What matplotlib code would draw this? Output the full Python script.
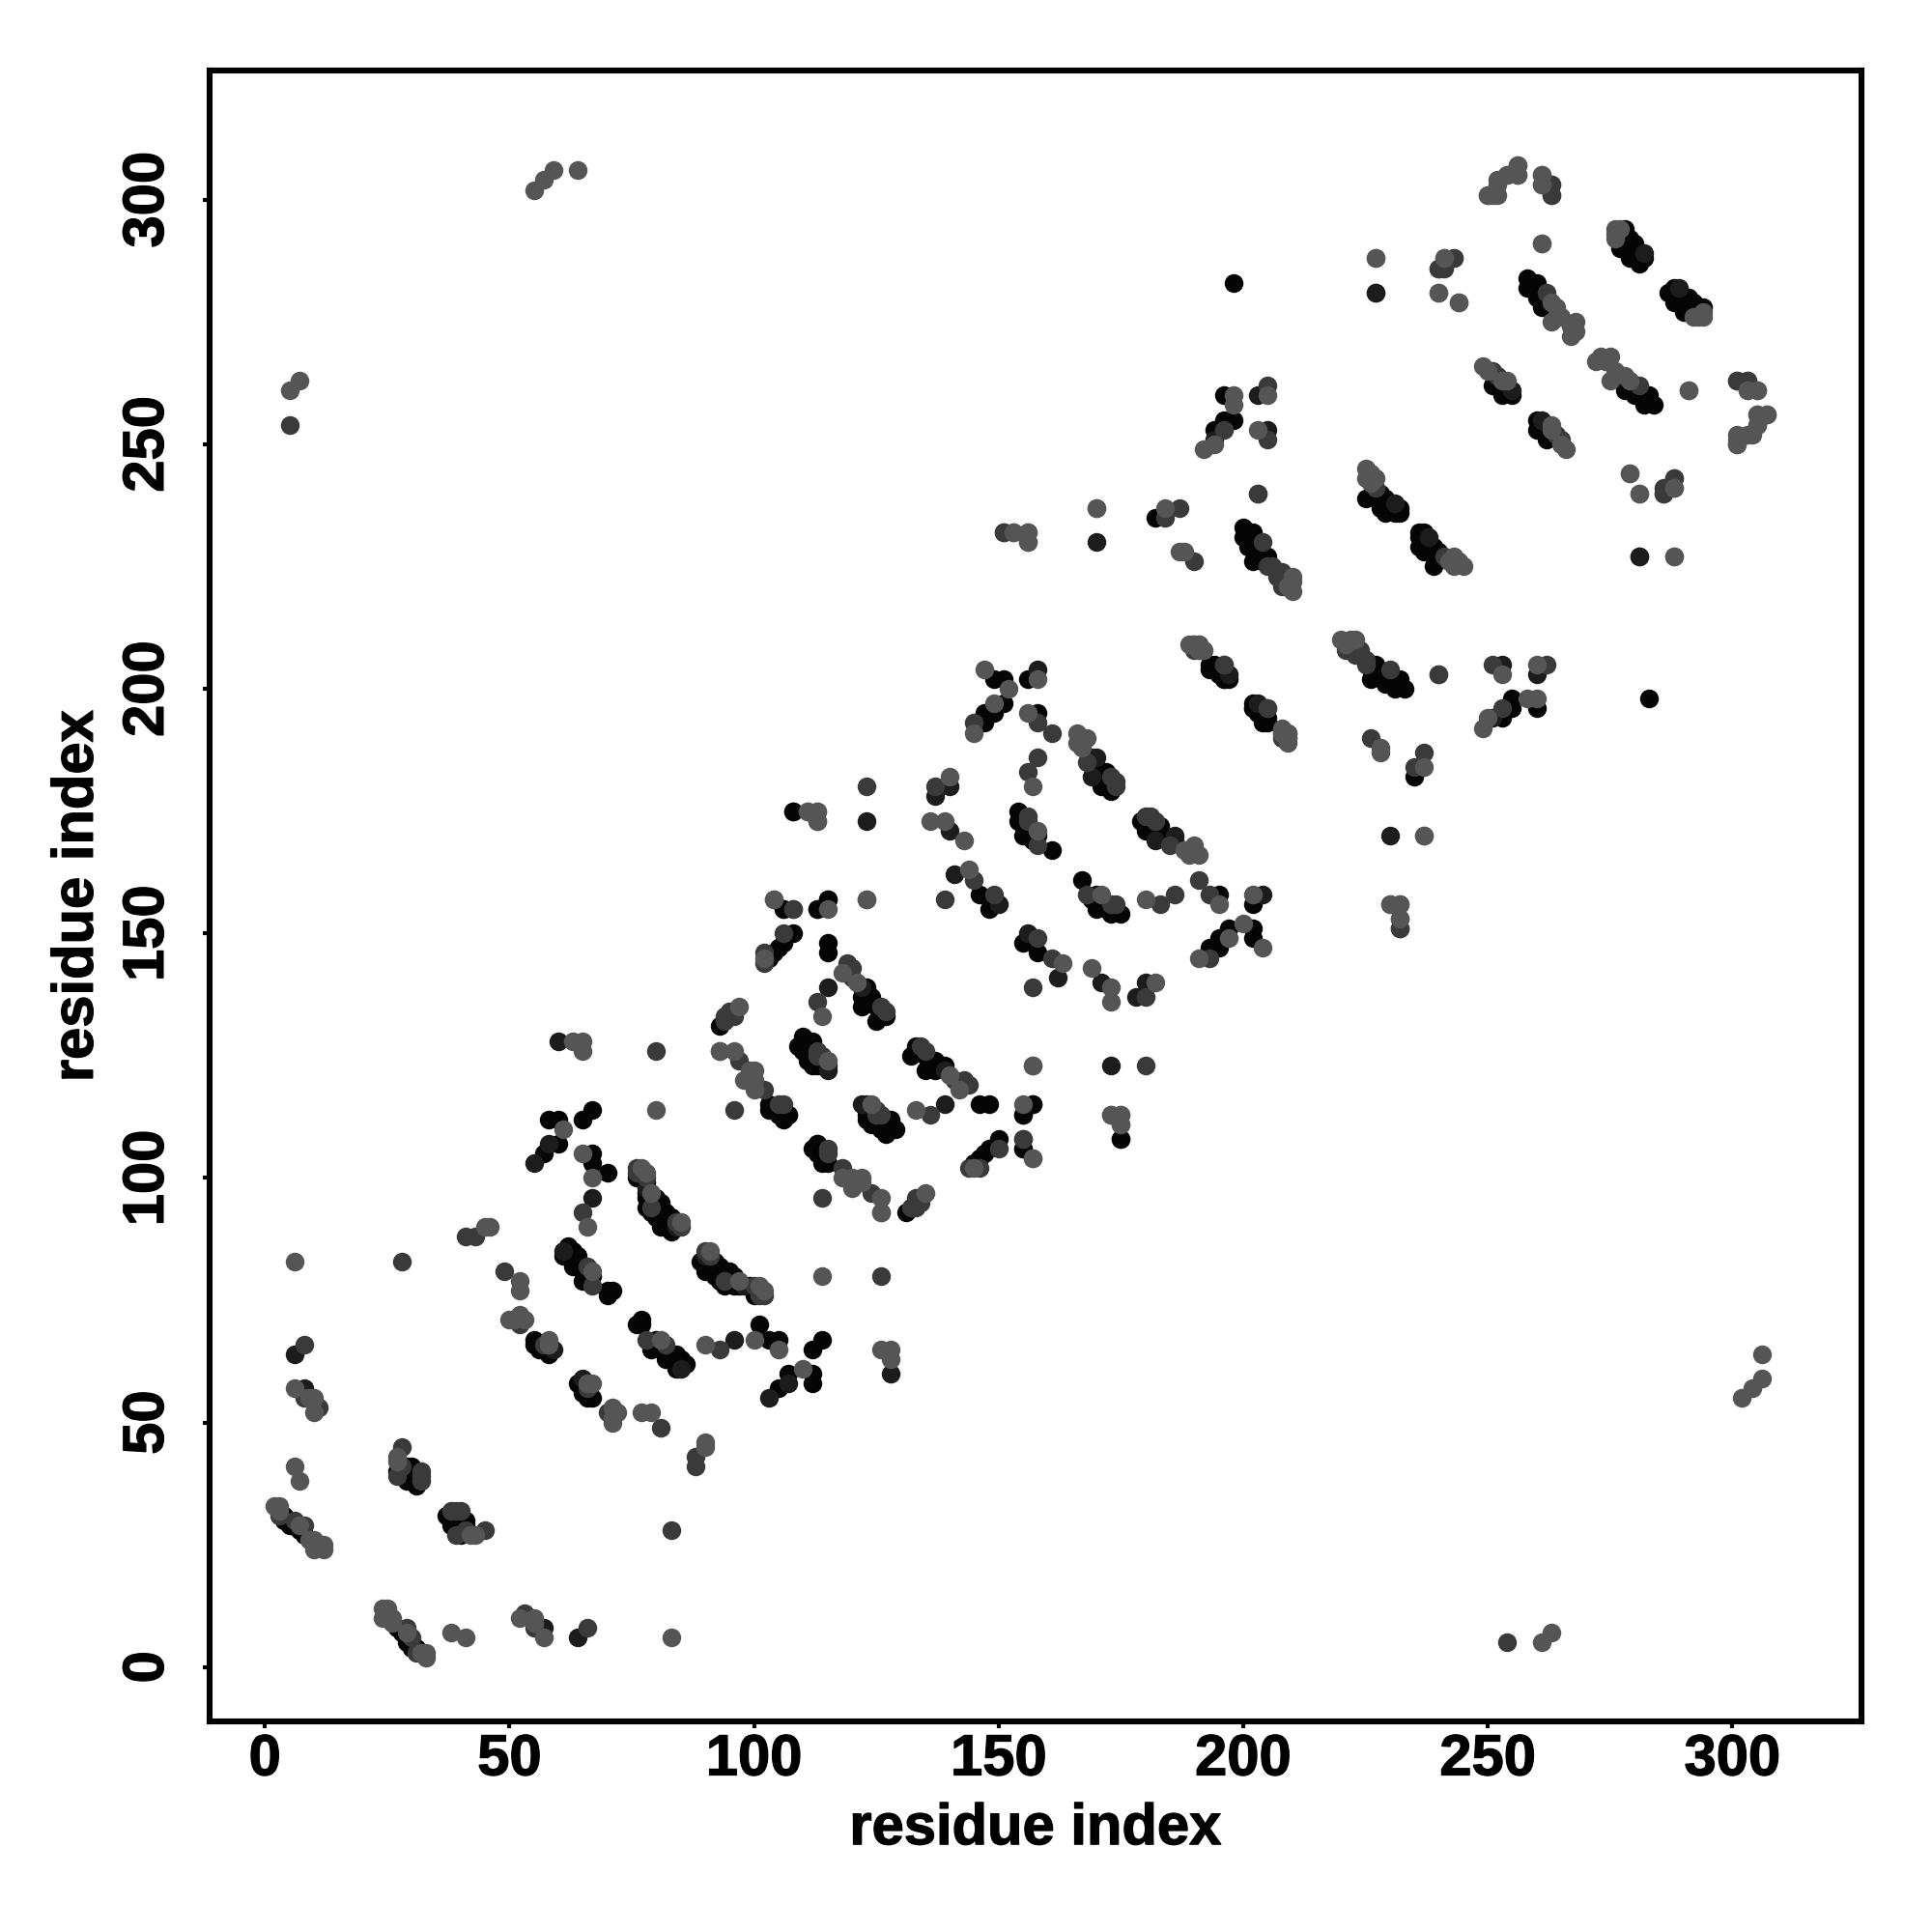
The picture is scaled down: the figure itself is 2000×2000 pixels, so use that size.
import matplotlib
matplotlib.use("Agg")
import matplotlib.pyplot as plt
import matplotlib.patheffects as pe

plt.rcParams['font.family'] = ['Liberation Sans', 'DejaVu Sans']

x_ticks = [0, 50, 100, 150, 200, 250, 300]
y_ticks = [0, 50, 100, 150, 200, 250, 300]
x_label = "residue index"
y_label = "residue index"

# contacts (residue a, residue b), one list per grey level; the map is symmetric
contacts_black = [
    (8,27),(7,28),(6,29),(4,30),(4,31),(5,29),(27,40),(29,41),(30,41),(29,38),(29,40),(30,39),(31,37),(31,38),
    (58,64),(56,65),(55,66),(55,67),(57,65),(56,66),(62,86),(62,85),(63,85),(62,84),(64,84),(63,83),(65,82),(65,79),
    (66,81),(67,80),(64,83),(64,82),(61,84),(63,84),(63,82),(65,81),(66,80),
    (70,76),(71,77),(70,77),(78,97),(78,96),(78,94),(80,96),(79,93),(81,93),(80,92),(81,91),
    (82,90),(83,89),(81,90),(82,91),(83,92),(82,93),(80,93),(81,95),(79,95),(78,99),(76,100),
    (93,131),(127,133),(125,132),(125,135),(122,135),(122,137),(123,139),(123,137),(115,148),(115,146),
    (126,133),(124,136),(123,138),(124,137),
    (113,123),(111,124),(112,128),(109,127),(110,129),(110,126),(112,123),(110,127),(111,128),(111,125),(112,126),(112,124),(114,123),
    (103,115),(107,113),(105,113),(67,114),(65,112),(60,112),(58,112),(60,107),(57,105),(67,105),(67,103),(70,101),
    (106,112),(103,114),(113,107),(104,146),(106,148),(108,150),(105,147),(103,145),(146,158),(148,155),
    (113,155),(115,157),(106,155),(108,175) ,(155,113),(157,115),(155,106),(175,108),
    (149,202),(151,202),(156,202),(151,197),(149,195),(147,195),(147,193),(158,195),(172,183),(171,180),(173,179),
    (170,184),(171,183),(172,181),(172,180),(173,181),
    (154,175),(154,173),(155,170),(158,170),(161,167),(155,174),(155,172),(156,171),(157,171),(157,169),
    (193,205),(196,202),(197,202),(202,196),(204,193),(194,204),(195,204),(195,203),(203,196),(203,195),(205,194),
    (196,260),(198,255),(196,255),(194,253),(200,233),(200,231),(202,232),(201,229),(202,226),(205,227),
    (201,232),(202,230),(203,228),(203,227),(204,227),(204,226),
    (225,239),(228,240),(228,237),(229,236),(229,238),(228,239),(229,239),(230,237),(231,236),(231,237),(232,236),(227,240),(230,238),(232,237),
    (251,262),(253,260),(253,262),(254,261),(255,260),(232,151),(235,182),(198,283),
    (278,294),(277,290),(280,291),(279,288),(281,287),(278,293),(279,291),(280,289),(281,288),(282,288),(279,292),
    (258,282),(260,280),(261,278),(260,283),(258,284),
]
contacts_dark = [
    (8,57),(6,64),(61,85),(59,65),(78,98),(84,90),(60,128),(115,139),(115,122),(115,123),(58,107),(55,103),(67,96),
    (173,123),(137,178),(140,180),(140,171),(141,162),(150,156),(158,204),(170,186),(169,182),(169,186),(197,203),
    (194,251),(203,260),(205,253),(231,238),(255,261),(230,170),(227,281),(282,289),(281,227),(122,139),
]
contacts_mid = [
    (6,30),(3,31),(8,29),(11,53),(8,55),(8,66),(27,39),(28,41),(32,38),(32,39),(32,40),(28,45),(28,83),(41,88),(43,88),(49,81),
    (5,254),(52,70),(57,66),(66,82),(67,78),(65,93),(76,101),(77,101),(78,100),(91,84),(80,126),(84,91),(85,90),(76,102),
    (79,94),(94,132),(94,133),(96,133),(95,134),(113,136),(127,134),(126,135),(119,144),(120,141),(120,143),(113,126),(113,125),(114,125),(105,115),(96,114),
    (106,115),(97,124),(93,126),(102,118),(123,180),(137,180),(139,157),(149,158),(145,161),(102,144),(102,146),(106,150),
    (108,155),(155,108),(151,232),(145,193),(158,193),(161,191),(168,185),(174,181),(173,182),(174,180),(156,173),(156,174),(158,168),
    (158,186),(156,183),(196,205),(205,196),(190,208),(209,191),(196,253),(205,262),(205,251),(203,240),(187,237),(184,235),
    (190,226),(204,230),(205,225),(206,225),(207,223),(209,222),(208,224),(208,221),(227,241),(240,203),(251,265),(252,264),(232,153),(240,286),(243,288),(263,303),
    (263,301),(262,281),(301,263),(303,263),(286,241),(288,243),(286,240),(276,264),
]
contacts_light = [
    (12,24),(12,25),(11,25),(10,24),(10,26),(9,26),(7,29),(3,33),(2,33),(3,32),(7,38),(6,41),(10,52),(10,55),(9,55),
    (6,57),(6,83),(27,42),(27,43),(45,90),(46,90),(52,79),(52,77),(50,71),(51,71),(52,72),(53,71),(58,66),(58,67),
    (67,81),(66,90),(67,100),(65,105),(61,110),(78,101),(79,97),(85,91),(77,102),(63,128),(65,128),(65,126),(80,114),(97,135),(114,133),
    (121,140),(118,142),(115,124),(93,126),(96,126),(99,122),(100,122),(98,120),(100,118),(100,120),
    (5,261),(7,263),(55,302),(57,304),(59,306),(64,306),(102,145),(104,157),(115,155),(111,175),(113,175),(113,173),
    (123,157),(157,123),(173,113),(175,113),(175,111),(157,104),(136,173),(139,173),(143,169),(144,163),(140,182),
    (147,204),(152,200),(158,202),(149,197),(145,191),(156,195),(166,191),(168,190),(166,189),(167,190),(167,188),(158,171),(157,180),
    (153,232),(156,232),(156,230),(170,237),(189,209),(190,209),(191,209),(191,208),(192,208),(208,191),(209,190),(198,260),(198,258),(205,260),(192,249),
    (194,250),(203,253),(184,237),(187,228),(188,228),(209,221),(210,222),(210,220),(210,223),(225,245),(225,243),(226,244),(226,242),(227,243),(249,266),(250,265),
    (254,263),(253,263),(237,170),(230,156),(232,156),(227,288),(241,288),(240,281),(244,279),(250,301),(252,301),(252,304),
    (254,305),(256,307),(256,305),(261,305),(261,303),(261,291),(276,294),(276,292),(276,293),(277,294),(263,279),(264,278),(263,275),
    (265,276),(268,275),(268,273),(267,272),(267,274),(291,261),(303,261),(305,261),(307,256),(305,256),(305,254),
    (303,252),(301,251),(301,250),(279,244),(281,240),(288,241),(288,227),
]

grey_levels = [("#050505", contacts_black), ("#1c1c1c", contacts_dark),
               ("#3a3a3a", contacts_mid), ("#555555", contacts_light)]

fig = plt.figure(figsize=(20, 20), dpi=100)
ax = fig.add_axes([217/2000, 1 - 1782/2000, 1710/2000, 1709/2000])

for colour, contacts in grey_levels:
    a = [c[0] for c in contacts]
    b = [c[1] for c in contacts]
    ax.scatter(a + b, b + a, s=196, c=colour, linewidths=0, zorder=3)

ax.set_xlim(-11.3, 326.4)
ax.set_ylim(-11.1, 326.4)
ax.set_xticks(x_ticks)
ax.set_yticks(y_ticks)
ax.set_xticklabels([str(t) for t in x_ticks], fontsize=43, fontweight='bold')
ax.set_yticklabels([str(t) for t in y_ticks], fontsize=43, fontweight='bold',
                   rotation=90, va='center')
ax.tick_params(axis='x', length=5, width=3, pad=4)
ax.tick_params(axis='y', length=5, width=3, pad=21)
for s in ax.spines.values():
    s.set_linewidth(4.4)
ax.set_xlabel(x_label, fontsize=43, fontweight='bold', labelpad=12)
ax.set_ylabel(y_label, fontsize=43, fontweight='bold', labelpad=13)

heavy = [pe.withStroke(linewidth=0.9, foreground='black')]
for t in ax.get_xticklabels() + ax.get_yticklabels() + [ax.xaxis.label, ax.yaxis.label]:
    t.set_path_effects(heavy)

fig.savefig("out.png", dpi=100)
